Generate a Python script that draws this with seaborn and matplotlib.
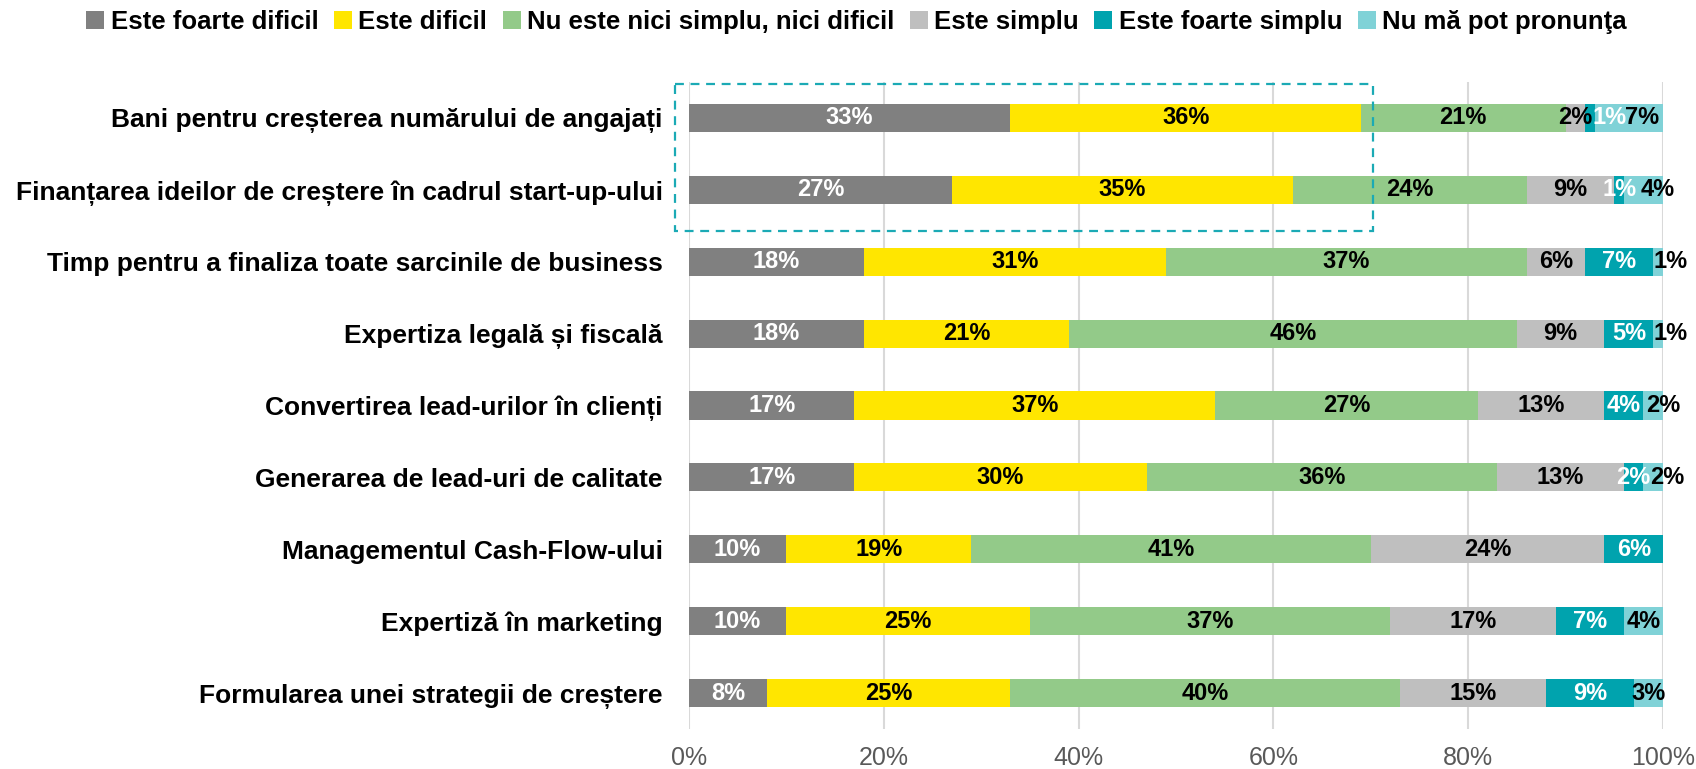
import matplotlib
matplotlib.use("Agg")
import matplotlib.pyplot as plt
import seaborn as sns
import pandas as pd
import numpy as np
from matplotlib.patches import Patch, Rectangle

categories = [
    "Bani pentru creșterea numărului de angajați",
    "Finanțarea ideilor de creștere în cadrul start-up-ului",
    "Timp pentru a finaliza toate sarcinile de business",
    "Expertiza legală și fiscală",
    "Convertirea lead-urilor în clienți",
    "Generarea de lead-uri de calitate",
    "Managementul Cash-Flow-ului",
    "Expertiză în marketing",
    "Formularea unei strategii de creștere",
]
series = [
    "Este foarte dificil",
    "Este dificil",
    "Nu este nici simplu, nici dificil",
    "Este simplu",
    "Este foarte simplu",
    "Nu mă pot pronunţa",
]
foarte_dificil = [33, 27, 18, 18, 17, 17, 10, 10, 8]
dificil = [36, 35, 31, 21, 37, 30, 19, 25, 25]
neutru = [21, 24, 37, 46, 27, 36, 41, 37, 40]
simplu = [2, 9, 6, 9, 13, 13, 24, 17, 15]
foarte_simplu = [1, 1, 7, 5, 4, 2, 6, 7, 9]
nu_pronunta = [7, 4, 1, 1, 2, 2, 0, 4, 3]
tick_labels = ["0%", "20%", "40%", "60%", "80%", "100%"]

colors = ["#808080", "#FFE600", "#93CA89", "#BFBFBF", "#00A3AE", "#80D2D7"]
label_colors = ["white", "black", "black", "black", "white", "black"]

# small label nudges (layout only), keyed by (row, series index)
label_nudge = {(0, 4): 2.0, (0, 5): 1.4, (1, 5): 1.5, (2, 5): 1.3,
               (3, 5): 1.3, (4, 5): 1.0, (5, 5): 1.4}

values = [foarte_dificil, dificil, neutru, simplu, foarte_simplu, nu_pronunta]
df = pd.DataFrame({s: v for s, v in zip(series, values)}, index=categories)
cum = df.cumsum(axis=1)

sns.set_theme(style="white")
plt.rcParams["font.family"] = ["Liberation Sans", "DejaVu Sans"]

fig = plt.figure(figsize=(16.96, 7.69), dpi=100)
ax = fig.add_axes([0.4062, 0.052, 0.5743, 0.8414])

# draw stacked bars: cumulative totals, largest first
for i in range(len(series) - 1, -1, -1):
    d = pd.DataFrame({"cat": categories, "val": cum.iloc[:, i].values})
    sns.barplot(data=d, y="cat", x="val", orient="h", color=colors[i],
                width=0.39, ax=ax, saturation=1, linewidth=0, order=categories)

# labels
for r, cat in enumerate(categories):
    for i, s in enumerate(series):
        v = df.loc[cat, s]
        if v <= 0:
            continue
        xc = cum.loc[cat, s] - v / 2 + label_nudge.get((r, i), 0)
        ax.text(xc, r, f"{v}%", ha="center", va="center", fontsize=17,
                fontweight="bold", color=label_colors[i], zorder=6)

ax.set_xlim(0, 100)
ax.set_ylim(8.5, -0.5)
ax.set_xticks(np.arange(0, 101, 20))
ax.set_xticklabels(tick_labels)
ax.tick_params(axis="x", length=0, pad=12, labelsize=18, labelcolor="#595959")
ax.tick_params(axis="y", length=0, pad=19, labelsize=19, labelcolor="black")
for lbl in ax.get_yticklabels():
    lbl.set_fontweight("bold")
ax.set_xlabel("")
ax.set_ylabel("")
ax.xaxis.grid(True, color="#D9D9D9", linewidth=1.5)
ax.set_axisbelow(True)
for sp in ax.spines.values():
    sp.set_visible(False)

# dashed highlight box
rect = Rectangle((-1.44, -0.47), 71.64, 2.04, fill=False, edgecolor="#1BAAB5",
                 linestyle=(0, (4, 3)), linewidth=1.6, clip_on=False, zorder=5)
ax.add_patch(rect)

handles = [Patch(facecolor=c, edgecolor="none", label=s) for c, s in zip(colors, series)]
leg = fig.legend(handles=handles, loc="center", bbox_to_anchor=(0.505, 0.971), ncol=6,
                 frameon=False, handlelength=0.7, handleheight=0.7, handletextpad=0.25,
                 columnspacing=0.6, prop={"weight": "bold", "size": 18.5})
for t in leg.get_texts():
    t.set_color("black")

fig.savefig("out.png", dpi=100)
